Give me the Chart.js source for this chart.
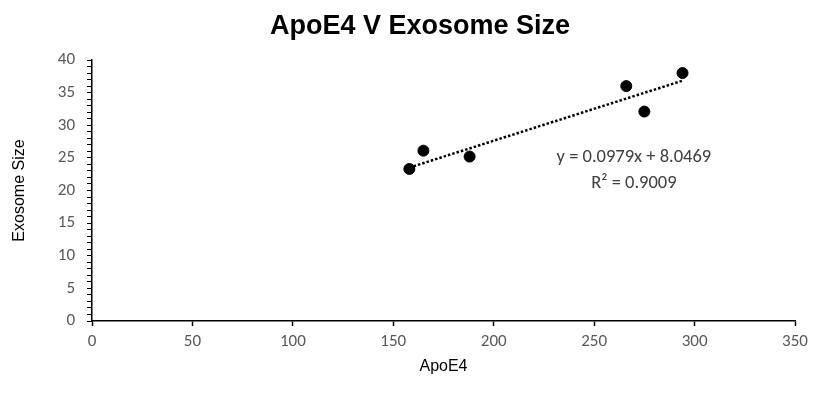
<!DOCTYPE html>
<html>
<head>
<meta charset="utf-8">
<title>ApoE4 V Exosome Size</title>
<script src="https://cdn.jsdelivr.net/npm/chart.js@4/dist/chart.umd.min.js"></script>
<style>
  html, body { margin: 0; padding: 0; background: #ffffff; }
  #chart { display: block; }
</style>
</head>
<body>
<canvas id="chart" width="814" height="404"></canvas>
<script>
// Measurements
const apoe4 = [158, 165, 188, 266, 275, 294];
const exosomeSize = [23.3, 26.1, 25.2, 36.0, 32.1, 38.0];

// Linear fit shown on the chart
const fitSlope = 0.0979;
const fitIntercept = 8.0469;
const fitLabels = ['y = 0.0979x + 8.0469', 'R² = 0.9009'];

// Axis settings
const xTicks = [0, 50, 100, 150, 200, 250, 300, 350];
const yTicks = [0, 5, 10, 15, 20, 25, 30, 35, 40];

const chartTitle = 'ApoE4 V Exosome Size';
const labelFamily = 'Carlito, "Liberation Sans Narrow", "Open Sans", sans-serif';
const titleFamily = 'Arial, "Liberation Sans", sans-serif';
const tickFont = { family: labelFamily, size: 17 };

// Trendline endpoints span the data range
const xMin = Math.min(...apoe4);
const xMax = Math.max(...apoe4);
const trendline = [xMin, xMax].map(x => ({ x, y: fitSlope * x + fitIntercept }));

/**
 * Chart heading, drawn in the space reserved by the top padding
 */
const headingPlugin = {
    id: 'heading',
    afterDraw(chart) {
        const { ctx } = chart;
        ctx.save();
        ctx.font = `bold 27px ${titleFamily}`;
        ctx.fillStyle = '#000000';
        ctx.textAlign = 'center';
        ctx.textBaseline = 'middle';
        ctx.fillText(chartTitle, 420, 27);
        ctx.restore();
    }
};

/**
 * Writes the fit equation next to the trendline
 */
const equationPlugin = {
    id: 'equation',
    afterDatasetsDraw(chart) {
        const { ctx, scales } = chart;
        const cx = scales.x.getPixelForValue(269.8);
        const cy = scales.y.getPixelForValue(25.1);
        ctx.save();
        ctx.font = `18.5px ${labelFamily}`;
        ctx.fillStyle = '#404040';
        ctx.textAlign = 'center';
        ctx.textBaseline = 'middle';
        ctx.fillText(fitLabels[0], cx, cy);
        ctx.fillText(fitLabels[1], cx, cy + 26);
        ctx.restore();
    }
};

new Chart(document.getElementById('chart'), {
    type: 'scatter',
    data: {
        datasets: [
            {
                label: 'Exosome Size',
                data: apoe4.map((x, i) => ({ x, y: exosomeSize[i] })),
                backgroundColor: '#000000',
                borderColor: '#000000',
                pointRadius: 5.5,
                pointHoverRadius: 5.5
            },
            {
                label: 'Linear trend',
                type: 'line',
                data: trendline,
                borderColor: '#000000',
                borderWidth: 2.5,
                borderDash: [2.5, 2],
                pointRadius: 0,
                fill: false
            }
        ]
    },
    options: {
        responsive: false,
        animation: false,
        events: [],
        layout: { padding: { left: 0, right: 19, top: 60, bottom: 0 } },
        plugins: {
            legend: { display: false },
            tooltip: { enabled: false },
            title: { display: false }
        },
        scales: {
            x: {
                type: 'linear',
                min: 0,
                max: 350,
                afterBuildTicks: axis => { axis.ticks = xTicks.map(value => ({ value })); },
                afterFit: axis => { axis.height = 83; },
                border: { color: '#000000', width: 1.5 },
                grid: { display: true, drawOnChartArea: false, tickLength: 5, tickColor: '#000000', tickWidth: 1.5 },
                ticks: { color: '#595959', font: tickFont, padding: 6, maxRotation: 0 },
                title: {
                    display: true,
                    text: 'ApoE4',
                    color: '#000000',
                    font: { family: titleFamily, size: 16 },
                    padding: { top: 0, bottom: 28 }
                }
            },
            y: {
                min: 0,
                max: 40,
                afterBuildTicks: axis => {
                    // minor tick every unit, labels only on the major ones
                    const ticks = [];
                    for (let v = 0; v <= 40; v++) ticks.push({ value: v });
                    axis.ticks = ticks;
                },
                afterFit: axis => { axis.width = 92; },
                border: { color: '#000000', width: 1.5 },
                grid: { display: true, drawOnChartArea: false, tickLength: 5, tickColor: '#000000', tickWidth: 1 },
                ticks: {
                    color: '#595959',
                    font: tickFont,
                    padding: 12,
                    autoSkip: false,
                    callback: value => (yTicks.includes(value) ? String(value) : '')
                },
                title: {
                    display: true,
                    text: 'Exosome Size',
                    color: '#000000',
                    font: { family: titleFamily, size: 16 },
                    padding: { top: 10, bottom: 0 }
                }
            }
        }
    },
    plugins: [headingPlugin, equationPlugin]
});
</script>
</body>
</html>
